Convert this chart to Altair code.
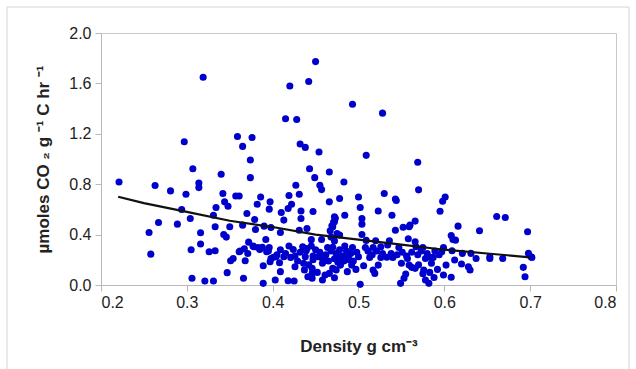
import altair as alt
import pandas as pd

# scatter points (density g/cm3, umol CO2 /g C /hr)
xs = [0.450, 0.319, 0.420, 0.442, 0.493, 0.528, 0.415, 0.428, 0.359, 0.376,
      0.297, 0.365, 0.432, 0.438, 0.454, 0.509, 0.374, 0.569, 0.443, 0.307,
      0.340, 0.466, 0.374, 0.449, 0.221, 0.314, 0.483, 0.263, 0.427, 0.314,
      0.455, 0.457, 0.570, 0.281, 0.530, 0.342, 0.299, 0.431, 0.357, 0.361,
      0.419, 0.386, 0.601, 0.500, 0.478, 0.543, 0.598, 0.344, 0.397, 0.544,
      0.466, 0.422, 0.382, 0.348, 0.595, 0.502, 0.418, 0.334, 0.396, 0.294,
      0.523, 0.433, 0.447, 0.410, 0.370, 0.661, 0.671, 0.331, 0.484, 0.539,
      0.472, 0.504, 0.304, 0.379, 0.566, 0.267, 0.433, 0.413, 0.472, 0.560,
      0.289, 0.616, 0.504, 0.470, 0.333, 0.350, 0.365, 0.390, 0.552, 0.559,
      0.380, 0.398, 0.431, 0.543, 0.641, 0.697, 0.409, 0.256, 0.440, 0.475,
      0.316, 0.504, 0.343, 0.478, 0.608, 0.346, 0.610, 0.536, 0.558, 0.534,
      0.520, 0.566, 0.613, 0.392, 0.457, 0.509, 0.316, 0.378, 0.383, 0.396,
      0.367, 0.393, 0.305, 0.424, 0.435, 0.439, 0.464, 0.493, 0.508, 0.517,
      0.526, 0.547, 0.567, 0.575, 0.599, 0.326, 0.333, 0.361, 0.609, 0.597,
      0.631, 0.698, 0.701, 0.621, 0.258, 0.354, 0.351, 0.368, 0.385, 0.404,
      0.413, 0.421, 0.438, 0.447, 0.453, 0.460, 0.472, 0.479, 0.488, 0.500,
      0.513, 0.526, 0.540, 0.557, 0.578, 0.587, 0.612, 0.637, 0.653, 0.668,
      0.397, 0.408, 0.436, 0.458, 0.479, 0.492, 0.506, 0.523, 0.550, 0.559,
      0.585, 0.602, 0.620, 0.628, 0.389, 0.426, 0.446, 0.470, 0.497, 0.517,
      0.566, 0.576, 0.592, 0.630, 0.347, 0.409, 0.446, 0.466, 0.487, 0.519,
      0.555, 0.599, 0.608, 0.694, 0.692, 0.306, 0.366, 0.403, 0.321, 0.331,
      0.418, 0.425, 0.446, 0.458, 0.472, 0.389, 0.502, 0.549, 0.553, 0.578,
      0.582, 0.441, 0.702, 0.653,
      0.455, 0.462, 0.468, 0.474, 0.481, 0.486, 0.491, 0.476, 0.483, 0.489,
      0.465, 0.458, 0.470, 0.478, 0.484, 0.450, 0.447, 0.442, 0.437, 0.452,
      0.461, 0.474, 0.494, 0.498, 0.511, 0.516, 0.521, 0.528, 0.533, 0.538,
      0.545, 0.551, 0.556, 0.562, 0.569, 0.573, 0.580, 0.584, 0.589, 0.594,
      0.562, 0.570, 0.575, 0.583, 0.588, 0.372, 0.377, 0.388, 0.395, 0.401,
      0.405, 0.398, 0.371, 0.362, 0.409, 0.415, 0.419, 0.426, 0.432, 0.429,
      0.440, 0.445, 0.445, 0.468, 0.472, 0.469, 0.471, 0.467, 0.473]
ys = [1.773, 1.649, 1.580, 1.615, 1.435, 1.364, 1.319, 1.314, 1.179, 1.171,
      1.137, 1.100, 1.119, 1.092, 1.055, 1.029, 0.992, 0.974, 0.923, 0.923,
      0.879, 0.897, 0.852, 0.852, 0.818, 0.810, 0.818, 0.789, 0.792, 0.773,
      0.792, 0.757, 0.755, 0.747, 0.726, 0.726, 0.720, 0.720, 0.707, 0.707,
      0.710, 0.699, 0.699, 0.699, 0.686, 0.683, 0.665, 0.660, 0.660, 0.670,
      0.660, 0.641, 0.641, 0.625, 0.586, 0.615, 0.607, 0.615, 0.602, 0.599,
      0.588, 0.588, 0.583, 0.575, 0.567, 0.544, 0.536, 0.554, 0.554, 0.554,
      0.541, 0.528, 0.528, 0.520, 0.507, 0.496, 0.528, 0.515, 0.501, 0.475,
      0.483, 0.467, 0.483, 0.462, 0.462, 0.462, 0.475, 0.467, 0.459, 0.462,
      0.441, 0.457, 0.435, 0.435, 0.430, 0.422, 0.417, 0.417, 0.449, 0.409,
      0.414, 0.401, 0.401, 0.396, 0.393, 0.380, 0.361, 0.351, 0.367, 0.317,
      0.351, 0.343, 0.356, 0.361, 0.361, 0.354, 0.325, 0.303, 0.298, 0.298,
      0.288, 0.264, 0.280, 0.282, 0.303, 0.272, 0.298, 0.298, 0.298, 0.298,
      0.303, 0.298, 0.303, 0.298, 0.298, 0.264, 0.272, 0.264, 0.272, 0.264,
      0.251, 0.251, 0.224, 0.251, 0.245, 0.211, 0.193, 0.193, 0.282, 0.224,
      0.224, 0.219, 0.224, 0.230, 0.224, 0.219, 0.208, 0.219, 0.224, 0.224,
      0.219, 0.219, 0.219, 0.211, 0.211, 0.219, 0.198, 0.211, 0.211, 0.211,
      0.185, 0.177, 0.172, 0.172, 0.158, 0.158, 0.153, 0.158, 0.172, 0.158,
      0.172, 0.158, 0.166, 0.145, 0.153, 0.145, 0.132, 0.132, 0.124, 0.119,
      0.132, 0.119, 0.124, 0.119, 0.098, 0.106, 0.092, 0.092, 0.106, 0.092,
      0.087, 0.079, 0.061, 0.066, 0.140, 0.053, 0.053, 0.040, 0.032, 0.032,
      0.034, 0.032, 0.053, 0.040, 0.058, 0.013, 0.005, 0.013, 0.053, 0.040,
      0.013, 0.066, 0.219, 0.224,
      0.260, 0.240, 0.270, 0.250, 0.230, 0.270, 0.250, 0.180, 0.190, 0.200,
      0.190, 0.210, 0.300, 0.280, 0.310, 0.280, 0.200, 0.160, 0.120, 0.100,
      0.080, 0.120, 0.190, 0.260, 0.270, 0.240, 0.270, 0.250, 0.220, 0.250,
      0.240, 0.260, 0.230, 0.260, 0.240, 0.270, 0.250, 0.220, 0.270, 0.240,
      0.140, 0.160, 0.090, 0.100, 0.060, 0.340, 0.310, 0.300, 0.270, 0.220,
      0.240, 0.210, 0.250, 0.270, 0.280, 0.250, 0.310, 0.230, 0.260, 0.190,
      0.290, 0.310, 0.360, 0.380, 0.350, 0.470, 0.500, 0.430, 0.530]

# fitted curve
curve_x = [0.22, 0.25, 0.30, 0.35, 0.40, 0.45, 0.50, 0.55, 0.60, 0.65, 0.70]
curve_y = [0.70, 0.65, 0.58, 0.51, 0.46, 0.40, 0.36, 0.32, 0.28, 0.25, 0.22]

pts = pd.DataFrame({"x": xs, "y": ys})
crv = pd.DataFrame({"x": curve_x, "y": curve_y})

FONT = "Liberation Sans"

xscale = alt.Scale(domain=[0.2, 0.8], nice=False, zero=False)
yscale = alt.Scale(domain=[0.0, 2.0], nice=False, zero=False)

xaxis = alt.Axis(title="Density g cm⁻³", values=[0.2, 0.3, 0.4, 0.5, 0.6, 0.7, 0.8],
                 format=".1f", grid=False, tickSize=6, labelPadding=3,
                 titlePadding=28)
yaxis = alt.Axis(title="µmoles CO ₂ g ⁻¹ C hr ⁻¹", values=[0.0, 0.4, 0.8, 1.2, 1.6, 2.0],
                 format=".1f", grid=False, tickSize=6, labelPadding=4,
                 titlePadding=16)

frame = alt.Chart(pd.DataFrame({"a": [0]})).mark_rect(
    fill="transparent", stroke="#d4d4d4", strokeWidth=1
).encode(x=alt.value(-94), x2=alt.value(528), y=alt.value(-26), y2=alt.value(350))

scatter = alt.Chart(pts).mark_circle(size=50, color="#0000cc", opacity=1).encode(
    x=alt.X("x:Q", scale=xscale, axis=xaxis),
    y=alt.Y("y:Q", scale=yscale, axis=yaxis),
)

line = alt.Chart(crv).mark_line(color="#111111", strokeWidth=2.2).encode(
    x=alt.X("x:Q", scale=xscale),
    y=alt.Y("y:Q", scale=yscale),
)

chart = alt.layer(frame, scatter, line).properties(
    width=515, height=252,
    autosize=alt.AutoSizeParams(type="none"),
    padding={"left": 101, "top": 33, "right": 20, "bottom": 84},
    background="white",
).configure_view(
    stroke="#c8c8c8", strokeWidth=1
).configure_axis(
    domainColor="#b8b8b8", tickColor="#b8b8b8",
    labelFont=FONT, labelFontSize=16, labelColor="#222222",
    titleFont=FONT, titleFontSize=17, titleFontWeight="bold", titleColor="#222222",
)

chart.save("out.html", embed_options={"renderer": "svg", "actions": False})
